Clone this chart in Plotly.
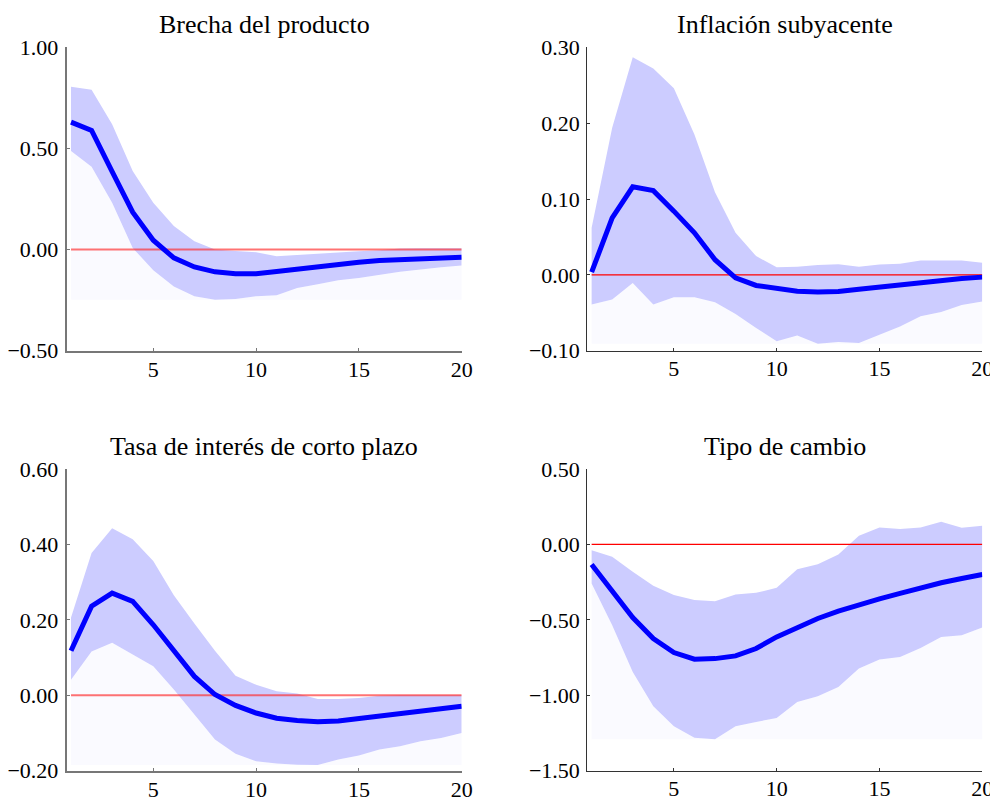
import plotly.graph_objects as go

periods = list(range(1, 21))

titles = ["Brecha del producto", "Inflación subyacente",
          "Tasa de interés de corto plazo", "Tipo de cambio"]

brecha_mean = [0.630, 0.589, 0.385, 0.185, 0.046, -0.041, -0.086, -0.110, -0.119, -0.119,
               -0.109, -0.096, -0.084, -0.073, -0.063, -0.054, -0.050, -0.046, -0.041, -0.038]
brecha_upper = [0.805, 0.790, 0.619, 0.388, 0.231, 0.116, 0.041, 0.000, -0.007, -0.013,
                -0.033, -0.026, -0.020, -0.013, -0.008, -0.003, 0.005, 0.007, 0.007, 0.007]
brecha_lower = [0.487, 0.409, 0.231, 0.008, -0.102, -0.182, -0.231, -0.248, -0.244, -0.231,
                -0.226, -0.190, -0.172, -0.152, -0.140, -0.124, -0.110, -0.099, -0.087, -0.079]

infl_mean = [0.0035, 0.075, 0.116, 0.111, 0.084, 0.0555, 0.020, -0.004, -0.014, -0.0185,
             -0.0216, -0.0225, -0.022, -0.019, -0.016, -0.013, -0.0106, -0.007, -0.0048, -0.003]
infl_upper = [0.062, 0.194, 0.287, 0.272, 0.246, 0.185, 0.109, 0.0555, 0.0247, 0.010,
              0.0106, 0.013, 0.014, 0.0106, 0.0137, 0.0145, 0.019, 0.019, 0.019, 0.016]
infl_lower = [-0.039, -0.0326, -0.0106, -0.039, -0.0295, -0.0295, -0.036, -0.0515, -0.070, -0.0877,
              -0.080, -0.0907, -0.0885, -0.090, -0.079, -0.068, -0.0546, -0.049, -0.0396, -0.035]

tasa_mean = [0.118, 0.236, 0.271, 0.249, 0.187, 0.119, 0.050, 0.002, -0.027, -0.047,
             -0.061, -0.067, -0.070, -0.068, -0.062, -0.056, -0.0485, -0.041, -0.035, -0.029]
tasa_upper = [0.206, 0.377, 0.443, 0.414, 0.356, 0.265, 0.190, 0.118, 0.052, 0.028,
              0.0106, 0.0044, -0.0097, -0.0097, -0.007, -0.001, 0.001, 0.001, 0.001, 0.001]
tasa_lower = [0.041, 0.116, 0.139, 0.109, 0.077, 0.015, -0.051, -0.117, -0.155, -0.175,
              -0.181, -0.184, -0.185, -0.170, -0.160, -0.144, -0.135, -0.122, -0.113, -0.100]

tc_mean = [-0.133, -0.314, -0.485, -0.624, -0.717, -0.761, -0.757, -0.739, -0.690, -0.613,
           -0.551, -0.491, -0.442, -0.398, -0.361, -0.325, -0.288, -0.254, -0.226, -0.199]
tc_upper = [-0.038, -0.082, -0.181, -0.274, -0.336, -0.369, -0.376, -0.332, -0.321, -0.288,
            -0.164, -0.131, -0.066, 0.058, 0.113, 0.102, 0.113, 0.150, 0.111, 0.124]
tc_lower = [-0.259, -0.535, -0.845, -1.073, -1.206, -1.281, -1.292, -1.206, -1.177, -1.150,
            -1.044, -1.007, -0.945, -0.823, -0.763, -0.746, -0.686, -0.613, -0.602, -0.551]

y_ranges = [[-0.5, 1.0], [-0.1, 0.3], [-0.2, 0.6], [-1.5, 0.5]]
y_dticks = [0.5, 0.1, 0.2, 0.5]

panels = [
    (brecha_mean, brecha_upper, brecha_lower),
    (infl_mean, infl_upper, infl_lower),
    (tasa_mean, tasa_upper, tasa_lower),
    (tc_mean, tc_upper, tc_lower),
]

# page has an 8px body margin; figure sized to fill the remaining window
OFF = 8
W, H = 998 - OFF, 803 - OFF


def px_x(p):
    return (p - OFF) / W


def px_y(p):
    return 1 - (p - OFF) / H


x_doms = [[px_x(66.7), px_x(461.7)], [px_x(587.3), px_x(982.3)]]
y_doms = [[px_y(350.7), px_y(47.3)], [px_y(770.7), px_y(469.0)]]

fig = go.Figure()
FONT = "Liberation Serif, Times New Roman, serif"
layout = dict(
    template="none",
    width=W, height=H, margin=dict(l=0, r=0, t=0, b=0, autoexpand=False),
    paper_bgcolor="white", plot_bgcolor="white", showlegend=False,
    font=dict(family=FONT, size=22, color="black"),
)
annotations = []

for i, (mean, upper, lower) in enumerate(panels):
    row, col = divmod(i, 2)
    sfx = "" if i == 0 else str(i + 1)
    xa, ya = "x" + sfx, "y" + sfx
    base = [min(lower)] * len(periods)
    fig.add_trace(go.Scatter(x=periods, y=base, mode="lines", line=dict(width=0),
                             hoverinfo="skip", xaxis=xa, yaxis=ya))
    fig.add_trace(go.Scatter(x=periods, y=lower, mode="lines", line=dict(width=0),
                             fill="tonexty", fillcolor="rgba(204,204,255,0.09)",
                             hoverinfo="skip", xaxis=xa, yaxis=ya))
    fig.add_trace(go.Scatter(x=periods, y=upper, mode="lines", line=dict(width=0),
                             fill="tonexty", fillcolor="#ccccff",
                             hoverinfo="skip", xaxis=xa, yaxis=ya))
    zero_col = "rgba(255,40,40,0.65)" if col == 0 else "red"
    zero_w = 2 if col == 0 else 1.3
    fig.add_trace(go.Scatter(x=[periods[0], periods[-1]], y=[0, 0], mode="lines",
                             line=dict(color=zero_col, width=zero_w),
                             hoverinfo="skip", xaxis=xa, yaxis=ya))
    fig.add_trace(go.Scatter(x=periods, y=mean, mode="lines",
                             line=dict(color="#0000ff", width=5),
                             xaxis=xa, yaxis=ya))

    axis_col = "#777777" if col == 0 else "#333333"
    axis_w = 2 if col == 0 else 1.2
    layout["xaxis" + sfx] = dict(
        domain=x_doms[col], anchor=ya, range=[0.79, 20], automargin=False,
        tickmode="array", tickvals=[5, 10, 15, 20],
        ticks="inside", ticklen=3, tickcolor=axis_col, tickwidth=1,
        showline=True, linecolor=axis_col, linewidth=axis_w,
        showgrid=False, zeroline=False, ticklabelstandoff=-2,
        tickfont=dict(family=FONT, size=22, color="black"),
    )
    layout["yaxis" + sfx] = dict(
        domain=y_doms[row], anchor=xa, range=y_ranges[i], automargin=False,
        tick0=y_ranges[i][0], dtick=y_dticks[i], tickformat=".2f",
        ticks="inside", ticklen=3, tickcolor=axis_col, tickwidth=1,
        showline=True, linecolor=axis_col, linewidth=axis_w,
        showgrid=False, zeroline=False, ticklabelstandoff=2,
        tickfont=dict(family=FONT, size=22, color="black"),
    )
    annotations.append(dict(
        text=titles[i], xref="paper", yref="paper",
        x=(x_doms[col][0] + x_doms[col][1]) / 2, y=y_doms[row][1],
        xanchor="center", yanchor="bottom", yshift=6, showarrow=False,
        font=dict(family=FONT, size=26, color="black"),
    ))

layout["annotations"] = annotations
fig.update_layout(**layout)
fig.write_html("out.html")
